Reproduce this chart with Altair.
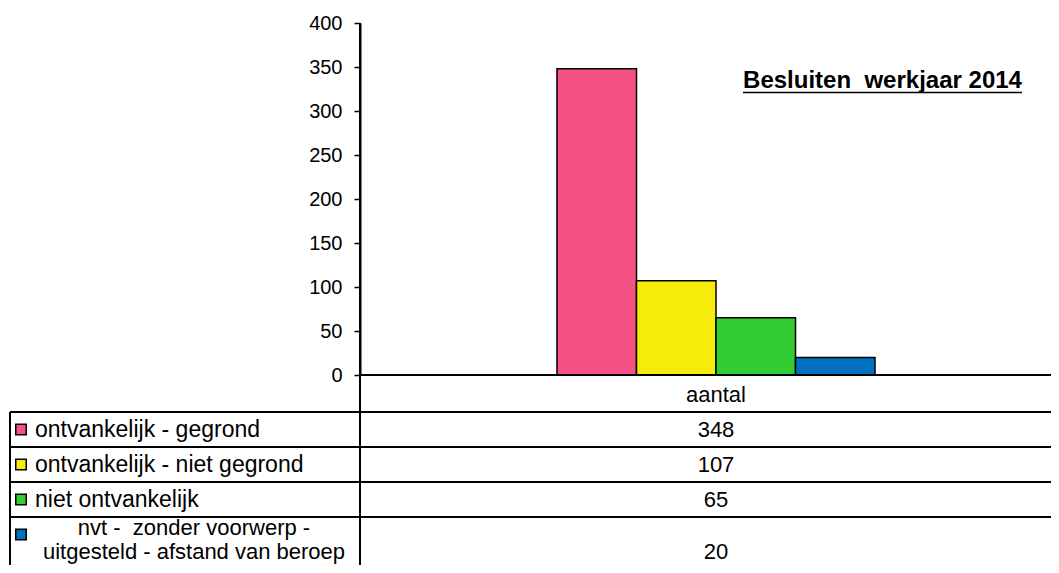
import altair as alt
import pandas as pd

# ---- data ----
categories = ["aantal"]
series = [
    "ontvankelijk - gegrond",
    "ontvankelijk - niet gegrond",
    "niet ontvankelijk",
    "nvt -  zonder voorwerp - uitgesteld - afstand van beroep",
]
series_labels = [
    "ontvankelijk - gegrond",
    "ontvankelijk - niet gegrond",
    "niet ontvankelijk",
    "nvt - \u00a0zonder voorwerp -\nuitgesteld - afstand van beroep",
]
values = [348, 107, 65, 20]
colors = ["#F35282", "#F5EC0C", "#33CC33", "#0070C0"]
row_lines = [1, 1, 1, 2]          # text lines per table row
y_ticks = [0, 50, 100, 150, 200, 250, 300, 350, 400]
title_text = "Besluiten \u00a0werkjaar 2014"

# ---- layout ----
W, H = 1041, 542
FONT = "Liberation Sans"
bar_y_scale = alt.Scale(domain=[0, 400], range=[352, 0], nice=False, zero=True)
table_scale = alt.Scale(domain=[0, 6], range=[354, 564], nice=False, zero=False)
x_scale = alt.Scale(domain=categories, range=[547, 865], paddingInner=0, paddingOuter=0)
fill_scale = alt.Scale(domain=series, range=colors)

bars_df = pd.DataFrame({"cat": categories[0], "series": series, "value": values})

tops, t = [], 1
for n in row_lines:
    tops.append(t)
    t += n
rows_df = pd.DataFrame({
    "cat": categories[0],
    "series": series,
    "label": series_labels,
    "value": [str(v) for v in values],
    "lines": row_lines,
    "top": tops,
    "bottom": [a + b for a, b in zip(tops, row_lines)],
})
rows_df["mid"] = (rows_df["top"] + rows_df["bottom"]) / 2
rows_df["sq"] = rows_df["top"] + 0.5
rows_df["ly"] = rows_df["top"] + 0.3
header_df = pd.DataFrame({"cat": categories, "mid": [0.5]})

# ---- bar part ----
bars = alt.Chart(bars_df).mark_bar(stroke="black", strokeWidth=1.5).encode(
    x=alt.X("cat:N", scale=x_scale, axis=None),
    xOffset=alt.XOffset("series:N", scale=alt.Scale(domain=series, paddingInner=0, paddingOuter=0)),
    y=alt.Y("value:Q", scale=bar_y_scale,
            axis=alt.Axis(values=y_ticks, offset=-350, title=None, grid=False,
                          domain=True, domainColor="black", domainWidth=2,
                          ticks=True, tickColor="black", tickWidth=1.5, tickSize=6,
                          labelFont=FONT, labelFontSize=20, labelColor="black",
                          labelPadding=12)),
    fill=alt.Fill("series:N", scale=fill_scale, legend=None),
)
x_line = alt.Chart(bars_df.head(1)).mark_rule(color="black", strokeWidth=2).encode(
    y=alt.Y(datum=0), x=alt.value(350), x2=alt.value(W)
)
divider = alt.Chart(bars_df.head(1)).mark_rule(color="black", strokeWidth=2).encode(
    x=alt.value(350), y=alt.value(0), y2=alt.value(H)
)
title = alt.Chart(pd.DataFrame({"t": [title_text]})).mark_text(
    font=FONT, fontSize=24, fontWeight="bold", color="black", align="center", baseline="alphabetic"
).encode(x=alt.value(872.5), y=alt.value(65), text="t:N")
underline = alt.Chart(pd.DataFrame({"t": [title_text]})).mark_rule(color="black", strokeWidth=1.5).encode(
    x=alt.value(733), x2=alt.value(1012), y=alt.value(69.5)
)
bar_part = alt.layer(bars, x_line, divider, title, underline)

# ---- table part ----
hlines = alt.Chart(rows_df).mark_rule(color="black", strokeWidth=2).encode(
    y=alt.Y("top:Q", scale=table_scale, axis=None), x=alt.value(0), x2=alt.value(W)
)
left_border = alt.Chart(rows_df.head(1)).mark_rule(color="black", strokeWidth=2).encode(
    y=alt.Y(datum=1), y2=alt.Y2(datum=6), x=alt.value(0)
)
squares = alt.Chart(rows_df).mark_square(size=110, stroke="black", strokeWidth=1.5, opacity=1).encode(
    x=alt.value(11), y=alt.Y("sq:Q"),
    fill=alt.Fill("series:N", scale=fill_scale, legend=None),
)
labels_single = alt.Chart(rows_df).transform_filter("datum.lines == 1").mark_text(
    font=FONT, fontSize=23, color="black", align="left", baseline="middle"
).encode(x=alt.value(25), y=alt.Y("mid:Q"), text="label:N")
labels_multi = alt.Chart(rows_df).transform_filter("datum.lines > 1").mark_text(
    font=FONT, fontSize=22, color="black", align="center", baseline="middle",
    lineBreak="\n", lineHeight=24
).encode(x=alt.value(184), y=alt.Y("ly:Q"), text="label:N")
values_txt = alt.Chart(rows_df).mark_text(
    font=FONT, fontSize=22, color="black", align="center", baseline="middle"
).encode(x=alt.X("cat:N", scale=x_scale, axis=None), y=alt.Y("mid:Q"), text="value:N")
header_txt = alt.Chart(header_df).mark_text(
    font=FONT, fontSize=22, color="black", align="center", baseline="middle"
).encode(x=alt.X("cat:N", scale=x_scale, axis=None), y=alt.Y("mid:Q"), text="cat:N")
table_part = alt.layer(hlines, left_border, squares, labels_single, labels_multi, values_txt, header_txt)

chart = alt.layer(bar_part, table_part).resolve_scale(y="independent").properties(
    width=W, height=H,
    autosize=alt.AutoSizeParams(type="none"),
    padding={"left": 2, "top": 15, "right": 0, "bottom": 0},
    background="white",
).configure_view(stroke=None)

chart.save("out.html", embed_options={"renderer": "svg", "actions": False})
